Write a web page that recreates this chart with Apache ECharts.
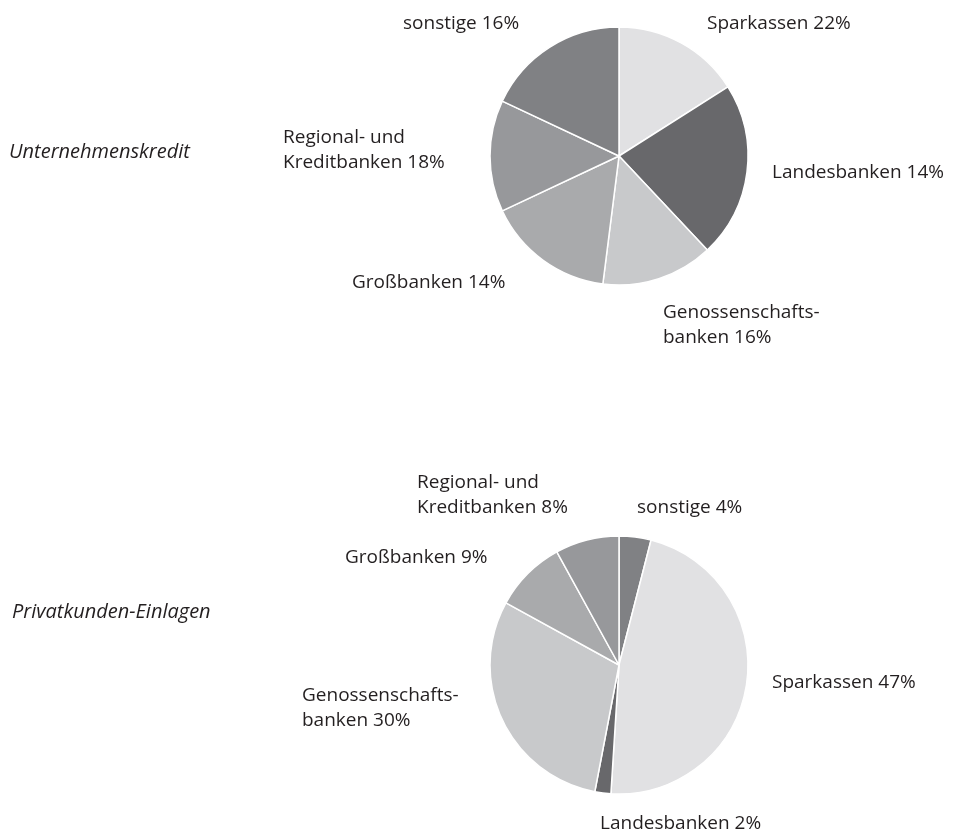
<!DOCTYPE html>
<html>
<head>
<meta charset="utf-8">
<script src="https://cdn.jsdelivr.net/npm/echarts@6/dist/echarts.min.js"></script>
<style>
  html, body { margin: 0; padding: 0; background: #fff; }
  #chart { width: 965px; height: 835px; }
</style>
</head>
<body>
<div id="chart"></div>
<script>
var chart = echarts.init(document.getElementById("chart"));

// Unternehmenskredit: slices clockwise from 12 o'clock
var creditNames  = ['Sparkassen', 'Landesbanken', 'Genossenschafts-\nbanken', 'Großbanken', 'Regional- und\nKreditbanken', 'sonstige'];
var creditShares = [22, 14, 16, 14, 18, 16];   // printed percentages
var creditSlices = [16, 22, 14, 16, 14, 18];   // drawn slice sizes

// Privatkunden-Einlagen: slices clockwise from 12 o'clock
var depositNames  = ['sonstige', 'Sparkassen', 'Landesbanken', 'Genossenschafts-\nbanken', 'Großbanken', 'Regional- und\nKreditbanken'];
var depositShares = [4, 47, 2, 30, 9, 8];

var creditColors  = ['#e1e1e3', '#68686b', '#c8c9cb', '#a9aaac', '#97989b', '#808184'];
var depositColors = ['#808184', '#e1e1e3', '#68686b', '#c8c9cb', '#a9aaac', '#97989b'];

// label top-left corners (layout only)
var creditSpots  = [[707, 11], [772, 160], [663, 300], [352, 270], [283, 125], [403, 11]];
var depositSpots = [[637, 495], [772, 670], [600, 811], [302, 683], [345, 545], [417, 470]];

var font = "'Open Sans', sans-serif";

function buildData(names, values, shares, colors) {
    return values.map(function (v, i) {
        return {
            name: names[i],
            value: v,
            share: shares[i],
            itemStyle: { color: colors[i] }
        };
    });
}

function pieSeries(data, center, spots) {
    return {
        type: 'pie',
        center: center,
        radius: 129,
        startAngle: 90,
        clockwise: true,
        silent: true,
        animation: false,
        itemStyle: { borderColor: '#ffffff', borderWidth: 1.5 },
        label: {
            show: true,
            position: 'outside',
            color: '#231f20',
            fontFamily: font,
            fontSize: 19,
            lineHeight: 25,
            align: 'left',
            overflow: 'none',
            formatter: function (p) {
                return p.name + ' ' + p.data.share + '%';
            }
        },
        labelLine: { show: false },
        labelLayout: function (p) {
            var s = spots[p.dataIndex];
            return { x: s[0], y: s[1], width: 250, align: 'left', verticalAlign: 'top' };
        },
        data: data
    };
}

option = {
    backgroundColor: '#ffffff',
    title: [
        {
            text: 'Unternehmenskredit',
            left: 4, top: 137,
            textStyle: { fontFamily: font, fontSize: 20, fontStyle: 'italic', fontWeight: 'normal', color: '#231f20' }
        },
        {
            text: 'Privatkunden-Einlagen',
            left: 7, top: 597,
            textStyle: { fontFamily: font, fontSize: 20, fontStyle: 'italic', fontWeight: 'normal', color: '#231f20' }
        }
    ],
    series: [
        pieSeries(buildData(creditNames, creditSlices, creditShares, creditColors), [619, 156], creditSpots),
        pieSeries(buildData(depositNames, depositShares, depositShares, depositColors), [619, 665], depositSpots)
    ]
};

chart.setOption(option);
</script>
</body>
</html>
